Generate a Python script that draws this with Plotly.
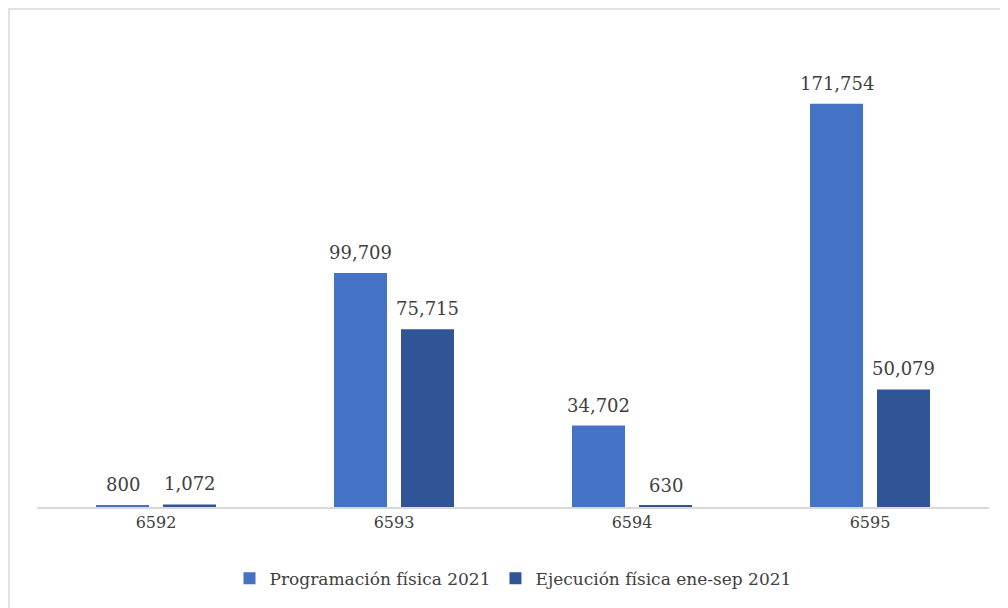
import plotly.graph_objects as go

categories = ["6592", "6593", "6594", "6595"]
programacion = [800, 99709, 34702, 171754]
ejecucion = [1072, 75715, 630, 50079]
series_names = ["Programación física 2021", "Ejecución física ene-sep 2021"]

FONT = "DejaVu Serif, Liberation Serif, serif"
TEXT = "#404040"

fig = go.Figure()
fig.add_trace(go.Bar(x=categories, y=programacion, name=series_names[0],
                     marker=dict(color="#4472C4", line=dict(width=0))))
fig.add_trace(go.Bar(x=categories, y=ejecucion, name=series_names[1],
                     marker=dict(color="#2F5597", line=dict(width=0))))

# value labels above each bar (left bar / right bar of each group);
# numeric-looking category names are addressed by their serial index
for values, shift in ((programacion, -33.5), (ejecucion, 33.5)):
    for i, v in enumerate(values):
        fig.add_annotation(x=i, y=v, text=f"{v:,}", showarrow=False,
                           xshift=shift, yshift=8, yanchor="bottom",
                           font=dict(family=FONT, size=18, color=TEXT))

# outer chart border (only left and top edges fall inside the picture)
fig.add_shape(type="rect", xref="paper", yref="paper",
              x0=(1 - 29) / 952, x1=1.05, y0=-0.3, y1=(500 - 1) / 478,
              line=dict(color="#D9D9D9", width=1.5), fillcolor="rgba(0,0,0,0)")

fig.update_layout(
    width=1000, height=600,
    margin=dict(l=29, r=19, t=22, b=100),
    paper_bgcolor="white", plot_bgcolor="white",
    barmode="group", bargap=0.437, bargroupgap=0.209,
    font=dict(family=FONT, size=16, color=TEXT),
    showlegend=True,
    legend=dict(orientation="h", x=0.5, xanchor="center", y=-0.11, yanchor="top",
                font=dict(family=FONT, size=17, color=TEXT), itemwidth=30,
                traceorder="normal"),
    xaxis=dict(type="category", showline=True, linecolor="#D9D9D9", linewidth=1.5,
               ticks="", tickfont=dict(family=FONT, size=16, color=TEXT), showgrid=False),
    yaxis=dict(visible=False, range=[0, 171754 * 478 / 404], showgrid=False),
)

fig.write_html("out.html")
